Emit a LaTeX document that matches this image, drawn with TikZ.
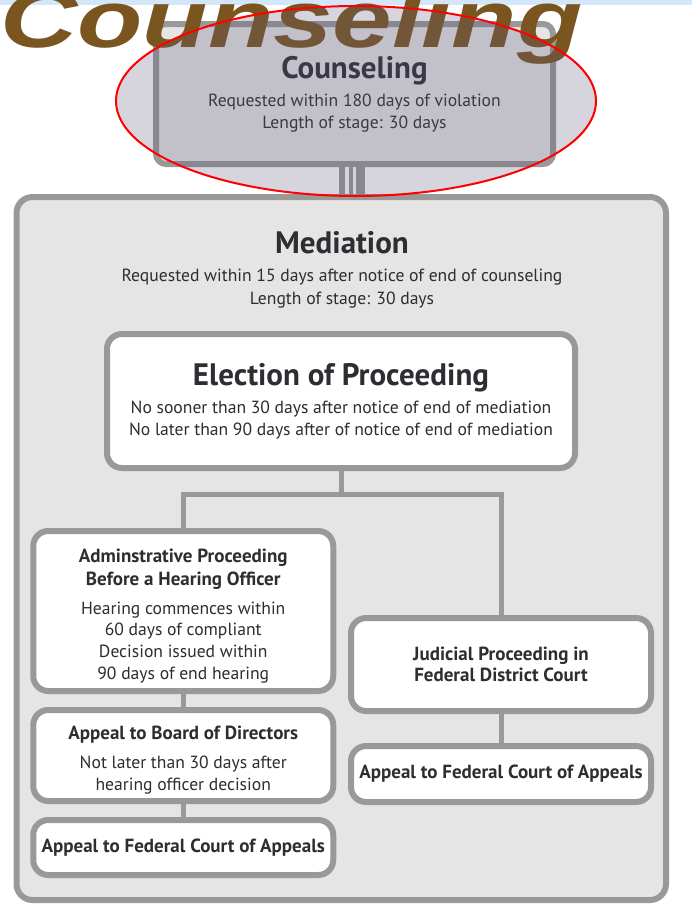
\documentclass[tikz,border=0pt]{standalone}
\usepackage{fontspec}
\setmainfont{PT Sans}
\newfontfamily\bannerfont{Liberation Sans}
\usetikzlibrary{positioning}
\definecolor{boxgray}{RGB}{153,153,153}
\definecolor{medfill}{RGB}{229,229,229}
\definecolor{inkgray}{RGB}{45,45,50}
\definecolor{bannerbrown}{RGB}{122,85,32}
\definecolor{bandblue}{RGB}{212,230,250}
\definecolor{tintviolet}{RGB}{95,90,125}
\newcommand\stagetitle{\fontsize{31}{33}\selectfont\bfseries}
\newcommand\boxtitle{\fontsize{19}{21.7}\selectfont\bfseries}

\begin{document}
\begin{tikzpicture}[x=1pt, y=-1pt,
    stage/.style={draw=boxgray, line width=6pt, rounded corners=15pt, fill=white, align=center,
      text=inkgray, inner sep=0pt, font=\fontsize{17.6}{21.7}\selectfont},
    wire/.style={draw=boxgray, line width=5pt}]
  \useasboundingbox (0,0) rectangle (692,911);
  \fill[bandblue] (0,0) rectangle (692,4.5);

  % outer mediation stage
  \node[stage, fill=medfill, minimum width=649.5pt, minimum height=703pt, rounded corners=16pt] (med) at (341.25,548.5) {};
  \node[align=center, text=inkgray, font=\fontsize{17.6}{23}\selectfont] (medtext) at (342,270)
    {{\stagetitle Mediation}\\[5pt] Requested within 15 days after notice of end of counseling\\ Length of stage: 30 days};

  \node[stage, fill=medfill, minimum width=397pt, minimum height=140pt, rounded corners=10pt] (couns) at (354.5,94)
    {{\stagetitle Counseling}\\[7pt] Requested within 180 days of violation\\ Length of stage: 30 days};

  \node[stage, minimum width=468pt, minimum height=134pt] (elect) at (341,401)
    {{\stagetitle Election of Proceeding}\\[7pt] No sooner than 30 days after notice of end of mediation\\ No later than 90 days after of notice of end of mediation};

  % left branch
  \node[stage, minimum width=300pt, minimum height=160pt] (admin) at (183.25,611)
    {\rule{0pt}{24pt}{\boxtitle Adminstrative Proceeding}\\[0.5pt] {\boxtitle Before a Hearing Officer}\\[7.5pt] Hearing commences within\\ 60 days of compliant\\ Decision issued within\\ 90 days of end hearing};
  \node[stage, minimum width=300pt, minimum height=91pt, below=13pt of admin] (board)
    {\rule{0pt}{22pt}{\boxtitle Appeal to Board of Directors}\\[7.5pt] Not later than 30 days after\\ hearing officer decision};
  \node[stage, minimum width=300pt, minimum height=55pt, below=13pt of board] (fedleft)
    {{\boxtitle Appeal to Federal Court of Appeals}};

  % right branch
  \node[stage, minimum width=300pt, minimum height=93pt] (judic) at (501,664.5)
    {{\boxtitle Judicial Proceeding in}\\ {\boxtitle Federal District Court}};
  \node[stage, minimum width=300pt, minimum height=56pt, below=29pt of judic] (fedright)
    {{\boxtitle Appeal to Federal Court of Appeals}};

  \draw[wire] (elect.south) -- ++(0,23) coordinate (fork);
  \draw[wire] (admin.north) |- (fork) -| (judic.north);
  \draw[wire] (admin) -- (board);
  \draw[wire] (board) -- (fedleft);
  \draw[wire] (judic) -- (fedright);

  % link counseling -> mediation
  \draw[line width=26pt, boxgray] ([xshift=-2.5pt]couns.south) -- ([xshift=-2.5pt]couns.south |- med.north);
  \draw[line width=4.3pt, white] ([xshift=-7.5pt]couns.south) -- ([xshift=-7.5pt]couns.south |- med.north);
  \draw[line width=2.7pt, white] ([xshift=0.2pt]couns.south) -- ([xshift=0.2pt]couns.south |- med.north);

  \node[anchor=base west, inner sep=0pt, text=bannerbrown, font=\bannerfont\bfseries\itshape\fontsize{81}{81}\selectfont] (banner) at (0,47)
    {\scalebox{1.32}[1]{Counseling}};
  \draw[red, line width=2pt, fill=tintviolet, fill opacity=0.26] (356,101) ellipse [x radius=240, y radius=95];
\end{tikzpicture}
\end{document}
